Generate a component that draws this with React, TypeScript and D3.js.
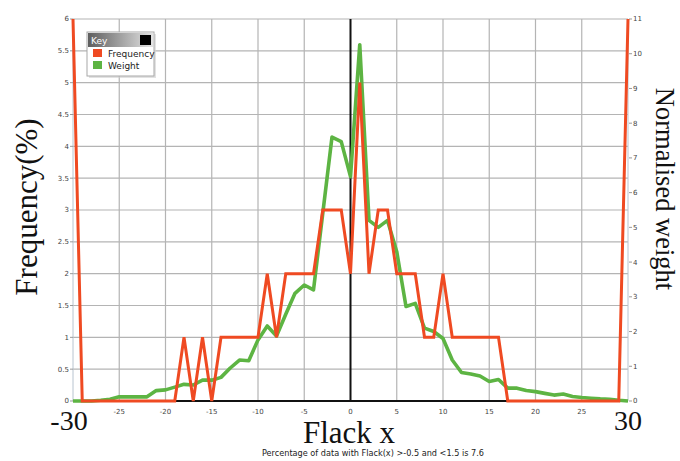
import React from "react";
import * as d3 from "d3";

// Flack x bins, -30 .. 30
const flackX: number[] = d3.range(-30, 31);

// Frequency (%) per bin
const frequency: number[] = [
  6, 0, 0, 0, 0, 0, 0, 0, 0, 0, 0, 0, 1, 0, 1, 0, 1, 1, 1, 1, 1, 2, 1, 2, 2, 2, 2,
  3, 3, 3, 2, 5, 2, 3, 3, 2, 2, 2, 1, 1, 2, 1, 1, 1, 1, 1, 1, 0, 0, 0, 0, 0, 0, 0,
  0, 0, 0, 0, 0, 0, 6,
];

// Normalised weight per bin
const weight: number[] = [
  0, 0, 0, 0.02, 0.05, 0.12, 0.12, 0.12, 0.12, 0.3, 0.32, 0.4, 0.48, 0.46, 0.6, 0.6,
  0.68, 0.95, 1.18, 1.16, 1.76, 2.16, 1.87, 2.5, 3.1, 3.34, 3.2, 5.4, 7.6, 7.47, 6.46,
  10.26, 5.2, 5.0, 5.2, 4.3, 2.72, 2.81, 2.1, 2.0, 1.8, 1.18, 0.82, 0.78, 0.72, 0.56,
  0.62, 0.37, 0.37, 0.3, 0.27, 0.22, 0.17, 0.2, 0.13, 0.1, 0.08, 0.06, 0.05, 0.02, 0,
];

const leftTicks: number[] = d3.range(0, 6.01, 0.5);
const rightTicks: number[] = d3.range(0, 12);
const bottomTicks: number[] = [-25, -20, -15, -10, -5, 0, 5, 10, 15, 20, 25];
const legendItems: string[] = ["Frequency", "Weight"];

const RED = "#ef4a22";
const GREEN = "#5db443";

export default function App() {
  const left = 73;
  const right = 628;
  const top = 19;
  const bottom = 401;

  const x = d3.scaleLinear().domain([-30, 30]).range([left, right]);
  const yL = d3.scaleLinear().domain([0, 6]).range([bottom, top]);
  const yR = d3.scaleLinear().domain([0, 11]).range([bottom, top]);

  const freqLine = d3
    .line<number>()
    .x((_, i) => x(flackX[i]))
    .y((d) => yL(d));
  const weightLine = d3
    .line<number>()
    .x((_, i) => x(flackX[i]))
    .y((d) => yR(d));

  const tickFont = "Tahoma, 'DejaVu Sans', sans-serif";
  const serif = "'Liberation Serif', 'Times New Roman', serif";

  return (
    <svg
      width={680}
      height={461}
      style={{ position: "absolute", left: 0, top: 0, background: "#fff" }}
    >
      <defs>
        <linearGradient id="keyHead" x1="0" x2="1" y1="0" y2="0">
          <stop offset="0" stopColor="#5e5e5e" />
          <stop offset="1" stopColor="#e4e4e4" />
        </linearGradient>
        <clipPath id="plotClip">
          <rect x={left - 2} y={top - 1} width={right - left + 4} height={bottom - top + 3} />
        </clipPath>
      </defs>

      {/* grid */}
      {leftTicks
        .filter((t) => t > 0)
        .map((t) => (
          <line
            key={"h" + t}
            x1={left}
            x2={right}
            y1={yL(t)}
            y2={yL(t)}
            stroke="#b4b4b4"
            strokeWidth={1.2}
          />
        ))}
      {bottomTicks
        .filter((t) => t !== 0)
        .map((t) => (
          <line
            key={"v" + t}
            x1={x(t)}
            x2={x(t)}
            y1={top}
            y2={bottom}
            stroke="#b4b4b4"
            strokeWidth={1.2}
          />
        ))}

      {/* axes */}
      <line x1={left} x2={left} y1={top} y2={bottom} stroke="#b8c4d0" strokeWidth={1} />
      <line x1={right} x2={right} y1={top} y2={bottom} stroke="#b8c4d0" strokeWidth={1} />
      <line x1={x(0)} x2={x(0)} y1={top} y2={bottom} stroke="#111" strokeWidth={2} />
      <line x1={left} x2={right} y1={bottom} y2={bottom} stroke="#111" strokeWidth={2} />

      {/* left ticks */}
      {leftTicks.map((t) => (
        <g key={"lt" + t}>
          <line x1={left - 3} x2={left} y1={yL(t)} y2={yL(t)} stroke="#999" />
          <text
            x={left - 4}
            y={yL(t)}
            dy="0.35em"
            textAnchor="end"
            fontSize={7}
            fontFamily={tickFont}
            fill="#444"
          >
            {t}
          </text>
        </g>
      ))}

      {/* right ticks */}
      {rightTicks.map((t) => (
        <g key={"rt" + t}>
          <line x1={right + 1} x2={right + 4} y1={yR(t)} y2={yR(t)} stroke="#999" />
          <text
            x={right + 5}
            y={yR(t)}
            dy="0.35em"
            textAnchor="start"
            fontSize={7}
            fontFamily={tickFont}
            fill="#444"
          >
            {t}
          </text>
        </g>
      ))}

      {/* bottom ticks */}
      {bottomTicks.map((t) => (
        <text
          key={"bt" + t}
          x={x(t)}
          y={412}
          dy="0.35em"
          textAnchor="middle"
          fontSize={7}
          fontFamily={tickFont}
          fill="#444"
        >
          {t}
        </text>
      ))}

      {/* series */}
      <g clipPath="url(#plotClip)">
        <path
          d={weightLine(weight) ?? ""}
          fill="none"
          stroke={GREEN}
          strokeWidth={3.6}
          strokeLinejoin="round"
        />
        <path
          d={freqLine(frequency) ?? ""}
          fill="none"
          stroke={RED}
          strokeWidth={3}
          strokeLinejoin="miter"
        />
      </g>

      {/* legend */}
      <g>
        <rect x={89} y={34} width={67} height={44} fill="#cfcfcf" opacity={0.6} />
        <rect x={87} y={32} width={67} height={44} fill="#fff" stroke="#a8a8a8" />
        <rect x={88} y={33} width={65} height={14} fill="url(#keyHead)" />
        <text x={91} y={44} fontSize={9} fontFamily={tickFont} fill="#fff">
          Key
        </text>
        <rect x={140} y={35} width={11} height={10} fill="#000" />
        {legendItems.map((name, i) => (
          <g key={name}>
            <rect
              x={93}
              y={49 + i * 12}
              width={9}
              height={8}
              fill={i === 0 ? RED : GREEN}
            />
            <text
              x={108}
              y={56.5 + i * 12}
              fontSize={9}
              fontFamily={tickFont}
              fill="#222"
            >
              {name}
            </text>
          </g>
        ))}
      </g>

      {/* titles */}
      <text
        transform="translate(37,207) rotate(-90)"
        textAnchor="middle"
        fontSize={31}
        fontFamily={serif}
        fill="#111"
      >
        Frequency(%)
      </text>
      <text
        transform="translate(656,189) rotate(90)"
        textAnchor="middle"
        fontSize={26.5}
        fontFamily={serif}
        fill="#111"
      >
        Normalised weight
      </text>
      <text x={349} y={443} textAnchor="middle" fontSize={31} fontFamily={serif} fill="#111">
        Flack x
      </text>
      <text x={69} y={430} textAnchor="middle" fontSize={28} fontFamily={serif} fill="#111">
        -30
      </text>
      <text x={628} y={430} textAnchor="middle" fontSize={28} fontFamily={serif} fill="#111">
        30
      </text>
      <text
        x={262}
        y={456}
        fontSize={8.5}
        fontFamily={tickFont}
        fill="#222"
        textLength={222}
        lengthAdjust="spacingAndGlyphs"
      >
        Percentage of data with Flack(x) &gt;-0.5 and &lt;1.5 is 7.6
      </text>
    </svg>
  );
}
